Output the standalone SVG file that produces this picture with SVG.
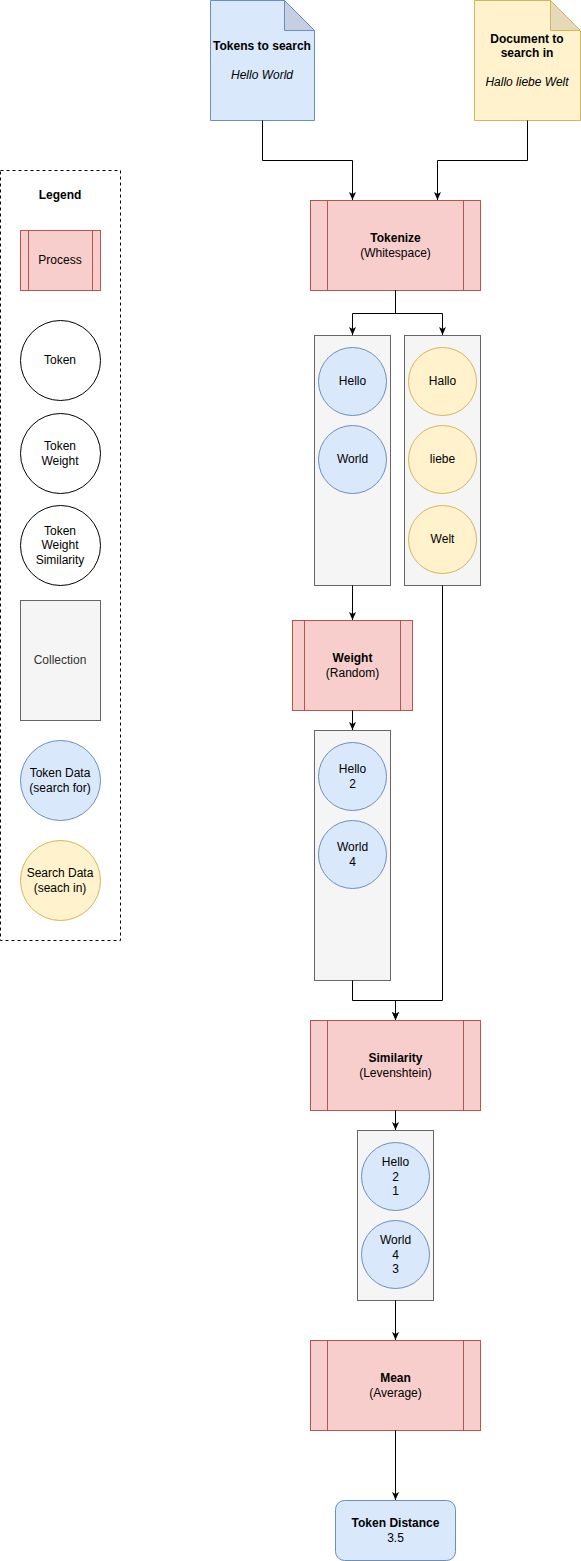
<svg xmlns="http://www.w3.org/2000/svg" width="581" height="1561" viewBox="0 0 581 1561">
<style>
text{font-family:"Liberation Sans",Arial,sans-serif;font-size:12px;fill:#000;text-anchor:middle}
.b{font-weight:bold}
.i{font-style:italic}
.proc{fill:#f8cecc;stroke:#b85450;stroke-width:1}
.blue{fill:#dae8fc;stroke:#6c8ebf;stroke-width:1}
.yel{fill:#fff2cc;stroke:#d6b656;stroke-width:1}
.col{fill:#f5f5f5;stroke:#666666;stroke-width:1}
.plain{fill:#fff;stroke:#000;stroke-width:1}
.edge{fill:none;stroke:#000;stroke-width:1;marker-end:url(#arr)}
.gray{fill:#333333}
</style>
<defs>
<marker id="arr" markerUnits="userSpaceOnUse" markerWidth="9" markerHeight="9" viewBox="0 0 9 9" refX="8" refY="4.5" orient="auto">
<path d="M0,1 L8,4.5 L0,8 L2,4.5 Z" fill="#000"/>
</marker>
</defs>
<rect width="581" height="1561" fill="#fff"/>

<g id="legend">
<rect x="0.5" y="170.5" width="120" height="770" fill="none" stroke="#000" stroke-dasharray="3,3"/>
<text class="b" x="60" y="199">Legend</text>
</g>
<g id="legend-process">
<rect class="proc" x="20.5" y="230.5" width="80" height="60"/>
<line x1="28.5" y1="230.5" x2="28.5" y2="290.5" stroke="#b85450"/>
<line x1="92.5" y1="230.5" x2="92.5" y2="290.5" stroke="#b85450"/>
<text x="60" y="264">Process</text>
</g>
<g id="legend-token">
<circle class="plain" cx="60.5" cy="360.5" r="40"/>
<text x="60" y="364">Token</text>
</g>
<g id="legend-token-weight">
<circle class="plain" cx="60.5" cy="453.5" r="40"/>
<text x="60" y="450">Token</text>
<text x="60" y="465">Weight</text>
</g>
<g id="legend-token-weight-sim">
<circle class="plain" cx="60.5" cy="545.5" r="40"/>
<text x="60" y="535">Token</text>
<text x="60" y="549">Weight</text>
<text x="60" y="564">Similarity</text>
</g>
<g id="legend-collection">
<rect class="col" x="20.5" y="600.5" width="80" height="120"/>
<text class="gray" x="60" y="664">Collection</text>
</g>
<g id="legend-token-data">
<circle class="blue" cx="60.5" cy="780.5" r="40"/>
<text x="60" y="777">Token Data</text>
<text x="60" y="792">(search for)</text>
</g>
<g id="legend-search-data">
<circle class="yel" cx="60.5" cy="880.5" r="40"/>
<text x="60" y="877">Search Data</text>
<text x="60" y="892">(seach in)</text>
</g>

<g id="tokens-doc">
<path class="blue" d="M210.5,0.5 H284.5 L314.5,30.5 V120.5 H210.5 Z"/>
<path d="M284.5,0.5 V30.5 H314.5 Z" fill="#c4d0e2" stroke="#6c8ebf"/>
<text class="b" x="262" y="50">Tokens to search</text>
<text class="i" x="262" y="78.5">Hello World</text>
</g>
<g id="document-doc">
<path class="yel" d="M474.5,0.5 H550.5 L580.5,30.5 V120.5 H474.5 Z"/>
<path d="M550.5,0.5 V30.5 H580.5 Z" fill="#e5d9b7" stroke="#d6b656"/>
<text class="b" x="527" y="43">Document to</text>
<text class="b" x="527" y="57">search in</text>
<text class="i" x="527" y="85.5">Hallo liebe Welt</text>
</g>

<g id="tokenize">
<rect class="proc" x="310.5" y="200.5" width="170" height="90"/>
<line x1="327.5" y1="200.5" x2="327.5" y2="290.5" stroke="#b85450"/>
<line x1="463.5" y1="200.5" x2="463.5" y2="290.5" stroke="#b85450"/>
<text class="b" x="395.5" y="242">Tokenize</text>
<text x="395.5" y="257">(Whitespace)</text>
</g>

<g id="tokens-collection">
<rect class="col" x="314.5" y="335.5" width="76" height="250"/>
<circle class="blue" cx="352.5" cy="381.5" r="34"/>
<text x="352.5" y="385">Hello</text>
<circle class="blue" cx="352.5" cy="459.5" r="34"/>
<text x="352.5" y="463">World</text>
</g>
<g id="document-collection">
<rect class="col" x="404.5" y="335.5" width="76" height="250"/>
<circle class="yel" cx="442.5" cy="381.5" r="34"/>
<text x="442.5" y="385">Hallo</text>
<circle class="yel" cx="442.5" cy="459.5" r="34"/>
<text x="442.5" y="463">liebe</text>
<circle class="yel" cx="442.5" cy="539.5" r="34"/>
<text x="442.5" y="543">Welt</text>
</g>

<g id="weight">
<rect class="proc" x="292.5" y="620.5" width="120" height="90"/>
<line x1="304.5" y1="620.5" x2="304.5" y2="710.5" stroke="#b85450"/>
<line x1="400.5" y1="620.5" x2="400.5" y2="710.5" stroke="#b85450"/>
<text class="b" x="352.5" y="662">Weight</text>
<text x="352.5" y="677">(Random)</text>
</g>

<g id="weighted-collection">
<rect class="col" x="314.5" y="730.5" width="76" height="250"/>
<circle class="blue" cx="352.5" cy="776.5" r="34"/>
<text x="352.5" y="773">Hello</text>
<text x="352.5" y="788">2</text>
<circle class="blue" cx="352.5" cy="854.5" r="34"/>
<text x="352.5" y="851">World</text>
<text x="352.5" y="866">4</text>
</g>

<g id="similarity">
<rect class="proc" x="310.5" y="1020.5" width="170" height="90"/>
<line x1="327.5" y1="1020.5" x2="327.5" y2="1110.5" stroke="#b85450"/>
<line x1="463.5" y1="1020.5" x2="463.5" y2="1110.5" stroke="#b85450"/>
<text class="b" x="395.5" y="1062">Similarity</text>
<text x="395.5" y="1077">(Levenshtein)</text>
</g>

<g id="similarity-collection">
<rect class="col" x="357.5" y="1130.5" width="76" height="170"/>
<circle class="blue" cx="395.5" cy="1176.5" r="34"/>
<text x="395.5" y="1166">Hello</text>
<text x="395.5" y="1180.5">2</text>
<text x="395.5" y="1195">1</text>
<circle class="blue" cx="395.5" cy="1254.5" r="34"/>
<text x="395.5" y="1244">World</text>
<text x="395.5" y="1258.5">4</text>
<text x="395.5" y="1273">3</text>
</g>

<g id="mean">
<rect class="proc" x="310.5" y="1340.5" width="170" height="90"/>
<line x1="327.5" y1="1340.5" x2="327.5" y2="1430.5" stroke="#b85450"/>
<line x1="463.5" y1="1340.5" x2="463.5" y2="1430.5" stroke="#b85450"/>
<text class="b" x="395.5" y="1382">Mean</text>
<text x="395.5" y="1397">(Average)</text>
</g>

<g id="token-distance">
<rect class="blue" x="335.5" y="1500.5" width="120" height="60" rx="9" ry="9"/>
<text class="b" x="395.5" y="1527">Token Distance</text>
<text x="395.5" y="1542">3.5</text>
</g>

<g id="connectors">
<path class="edge" d="M262.5,120.5 V160.5 H352.5 V200"/>
<path class="edge" d="M527.5,120.5 V160.5 H437.5 V200"/>
<path class="edge" d="M395.5,290.5 V313.5 H352.5 V335"/>
<path class="edge" d="M395.5,290.5 V313.5 H442.5 V335"/>
<path class="edge" d="M352.5,585.5 V620"/>
<path class="edge" d="M352.5,710.5 V730"/>
<path class="edge" d="M352.5,980.5 V1000.5 H395.5 V1020"/>
<path class="edge" d="M442.5,585.5 V1000.5 H395.5 V1020"/>
<path class="edge" d="M395.5,1110.5 V1130"/>
<path class="edge" d="M395.5,1300.5 V1340"/>
<path class="edge" d="M395.5,1430.5 V1500"/>
</g>
</svg>
